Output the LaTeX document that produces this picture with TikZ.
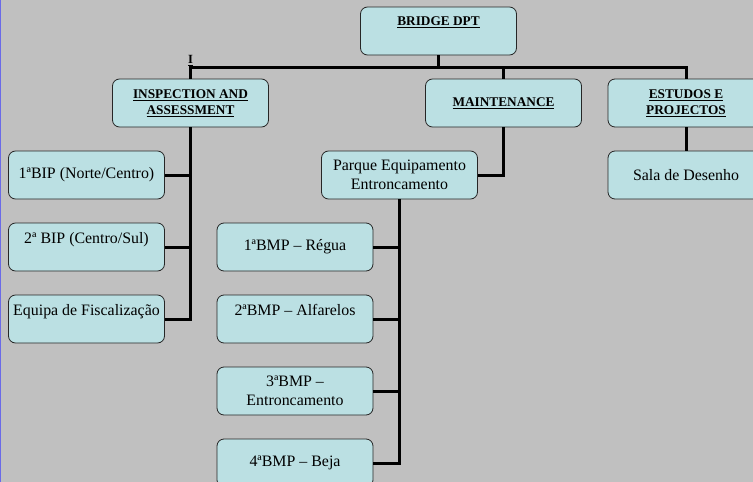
\documentclass[tikz,border=0pt]{standalone}
\usepackage{fontspec}
\setmainfont{Liberation Serif}
\definecolor{bggray}{HTML}{C0C0C0}
\definecolor{boxfill}{HTML}{BBE0E3}
\definecolor{edgeblue}{HTML}{6A6AE8}
\tikzset{
  unitbox/.style={draw=black!85, line width=0.8pt, fill=boxfill, rounded corners=7pt, minimum width=156pt, minimum height=48pt, inner sep=0pt, align=center, font=\fontsize{15.9}{19}\selectfont},
  headbox/.style={unitbox, font=\fontsize{13.3}{16}\selectfont\bfseries},
  link/.style={line width=3pt}
}

\begin{document}
\begin{tikzpicture}[x=1pt,y=-1pt]
		\useasboundingbox (0,0) rectangle (753,482);
		\clip (0,0) rectangle (753,482);
		\fill[bggray] (0,0) rectangle (753,482);
		\draw[edgeblue, line width=2pt] (0,0) -- (0,482);

		\node[headbox] (bridge) at (438.5,31) {\underline{BRIDGE DPT}\\[3pt] ~};
		\node[headbox] (insp) at (190.5,103) {\underline{INSPECTION AND}\\\underline{ASSESSMENT}};
		\node[headbox] (maint) at (503.5,103) {\underline{MAINTENANCE}};
		\node[headbox] (estudos) at (686,103) {\underline{ESTUDOS E}\\\underline{PROJECTOS}};

		\node[unitbox] (bip1) at (86.5,175) {1ªBIP (Norte/Centro)};
		\node[unitbox] (bip2) at (86.5,247) {2ª BIP (Centro/Sul)\\ ~};
		\node[unitbox] (fisc) at (86.5,319) {Equipa de Fiscalização\\ ~};

		\node[unitbox] (parque) at (399.5,175) {Parque Equipamento\\Entroncamento};
		\node[unitbox] (bmp1) at (295,247) {1ªBMP – Régua};
		\node[unitbox] (bmp2) at (295,319) {2ªBMP – Alfarelos\\ ~};
		\node[unitbox] (bmp3) at (295,391) {3ªBMP –\\Entroncamento};
		\node[unitbox] (bmp4) at (295,463) {4ªBMP – Beja};

		\node[unitbox] (sala) at (686,175) {Sala de Desenho};

		\node[anchor=base, inner sep=0pt, font=\fontsize{12.5}{14}\selectfont\bfseries] (mark) at (190.5,63.5) {\underline{I}};

		\coordinate (bus) at (0,67);
		\draw[link] (bridge.south) -- (bridge.south |- bus);
		\draw[link] (insp.north) -- (insp.north |- bus) -- (estudos.north |- bus) -- (estudos.north);
		\draw[link] (maint.north) -- (maint.north |- bus);
		\draw[link] (estudos.south) -- (sala.north);

		\draw[link] (insp.south) |- (fisc.east);
		\foreach \b in {bip1,bip2}
			\draw[link] (\b.east) -- (\b.east -| insp.south);

		\draw[link] (maint.south) |- (parque.east);
		\draw[link] (parque.south) |- (bmp4.east);
		\foreach \b in {bmp1,bmp2,bmp3}
			\draw[link] (\b.east) -- (\b.east -| parque.south);
	\end{tikzpicture}
\end{document}
